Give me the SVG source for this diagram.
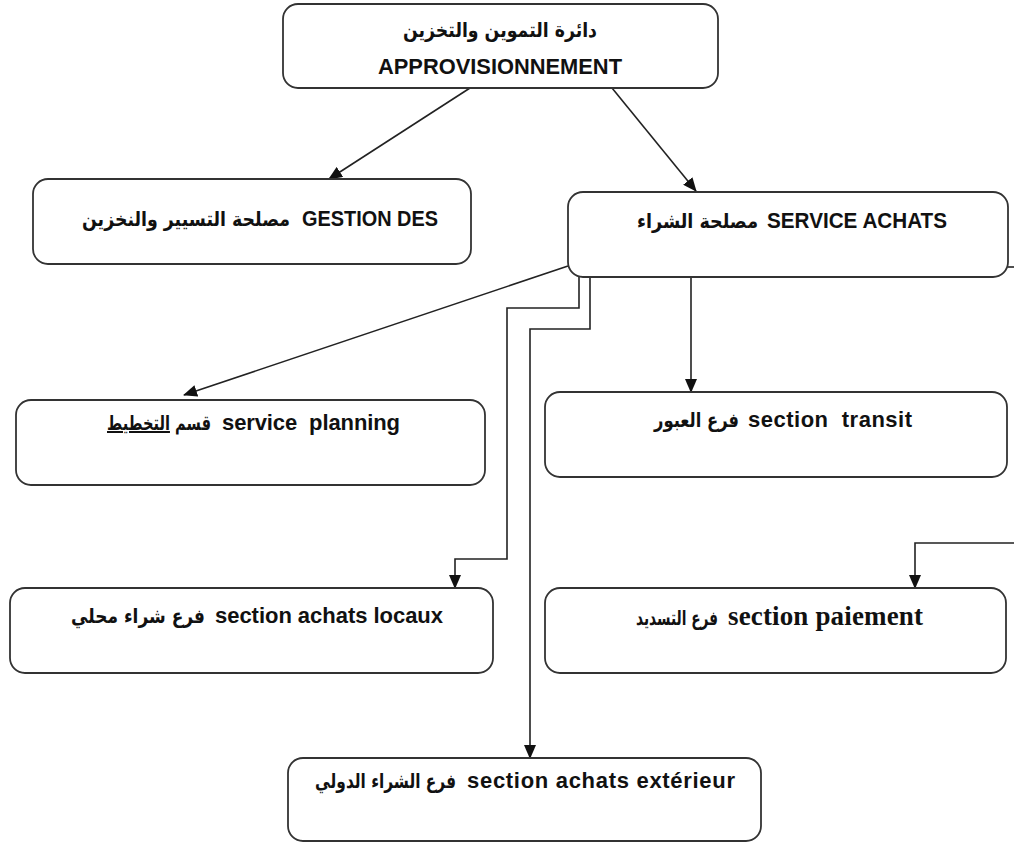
<svg xmlns="http://www.w3.org/2000/svg" width="1014" height="843" viewBox="0 0 1014 843">
  <style>
    .box { fill: #ffffff; stroke: #333333; stroke-width: 1.8; }
    .lbl { font-weight: bold; fill: #111111; }
    .en { font-family: "Liberation Sans", Arial, sans-serif; font-size: 22px; }
    .enserif { font-family: "Liberation Serif", "Times New Roman", serif; font-size: 27px; }
    .ar { font-family: "DejaVu Sans", "Noto Sans", sans-serif; font-size: 20px; text-anchor: end; }
    .link { fill: none; stroke: #222222; stroke-width: 1.6; }
  </style>
  <defs>
    <marker id="arrow" markerUnits="userSpaceOnUse" markerWidth="14" markerHeight="12" refX="13" refY="6" orient="auto">
      <path d="M0,0 L14,6 L0,12 Z" fill="#111111"/>
    </marker>
  </defs>
  <rect width="1014" height="843" fill="#ffffff"/>

  <!-- connectors -->
  <g id="connectors">
    <path class="link" d="M470,88 L329,179" marker-end="url(#arrow)"/>
    <path class="link" d="M612,88 L696,191" marker-end="url(#arrow)"/>
    <path class="link" d="M568,266 L184,395" marker-end="url(#arrow)"/>
    <path class="link" d="M579,277 V308 H507 V559 H455 V588" marker-end="url(#arrow)"/>
    <path class="link" d="M590,277 V329 H530 V758" marker-end="url(#arrow)"/>
    <path class="link" d="M691,277 V392" marker-end="url(#arrow)"/>
    <path class="link" d="M1008,267 H1014"/>
    <path class="link" d="M1014,543 H915 V588" marker-end="url(#arrow)"/>
  </g>

  <!-- department -->
  <g id="node-approvisionnement">
    <rect class="box" x="283" y="4" width="435" height="84" rx="15"/>
    <text class="lbl ar" x="597" y="37" textLength="194" lengthAdjust="spacingAndGlyphs">دائرة التموين والتخزين</text>
    <text class="lbl en" x="378" y="74" textLength="244" lengthAdjust="spacingAndGlyphs">APPROVISIONNEMENT</text>
  </g>

  <g id="node-gestion">
    <rect class="box" x="33" y="179" width="438" height="85" rx="15"/>
    <text class="lbl ar" x="290" y="226" textLength="208" lengthAdjust="spacingAndGlyphs">مصلحة التسيير والنخزين</text>
    <text class="lbl en" x="302" y="226" textLength="136" lengthAdjust="spacingAndGlyphs">GESTION DES</text>
  </g>

  <g id="node-service-achats">
    <rect class="box" x="568" y="192" width="440" height="85" rx="15"/>
    <text class="lbl ar" x="758" y="228" textLength="121" lengthAdjust="spacingAndGlyphs">مصلحة الشراء</text>
    <text class="lbl en" x="767" y="228" textLength="180" lengthAdjust="spacingAndGlyphs">SERVICE ACHATS</text>
  </g>

  <g id="node-planning">
    <rect class="box" x="16" y="400" width="469" height="85" rx="15"/>
    <text class="lbl ar" x="211" y="430" font-size="15.5" textLength="104" lengthAdjust="spacingAndGlyphs">قسم <tspan text-decoration="underline">التخطيط</tspan></text>
    <text class="lbl en" x="222" y="430" textLength="178" xml:space="preserve">service  planning</text>
  </g>

  <g id="node-transit">
    <rect class="box" x="545" y="392" width="462" height="85" rx="15"/>
    <text class="lbl ar" x="739" y="427" font-size="16.5" textLength="85" lengthAdjust="spacingAndGlyphs">فرع العبور</text>
    <text class="lbl en" x="748" y="427" textLength="164" xml:space="preserve">section  transit</text>
  </g>

  <g id="node-achats-locaux">
    <rect class="box" x="10" y="588" width="483" height="85" rx="15"/>
    <text class="lbl ar" x="205" y="623" font-size="18" textLength="134" lengthAdjust="spacingAndGlyphs">فرع شراء محلي</text>
    <text class="lbl en" x="215" y="623" textLength="228">section achats locaux</text>
  </g>

  <g id="node-paiement">
    <rect class="box" x="545" y="588" width="461" height="85" rx="15"/>
    <text class="lbl ar" x="718" y="625" font-size="15" textLength="82" lengthAdjust="spacingAndGlyphs">فرع التسديد</text>
    <text class="lbl enserif" x="728" y="625" textLength="195">section paiement</text>
  </g>

  <g id="node-achats-exterieur">
    <rect class="box" x="288" y="758" width="473" height="83" rx="15"/>
    <text class="lbl ar" x="456" y="788" font-size="16" textLength="141" lengthAdjust="spacingAndGlyphs">فرع الشراء الدولي</text>
    <text class="lbl en" x="467" y="788" textLength="268">section achats extérieur</text>
  </g>
</svg>
